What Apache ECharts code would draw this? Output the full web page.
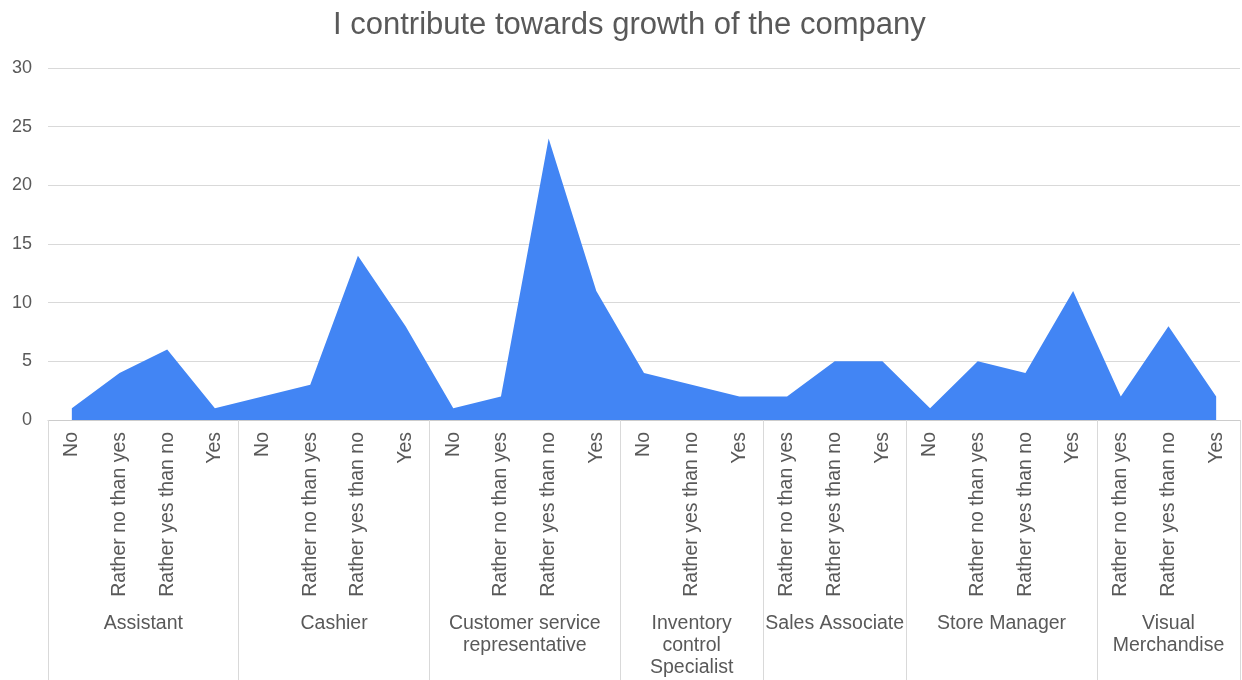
<!DOCTYPE html>
<html>
<head>
<meta charset="utf-8">
<script src="https://cdn.jsdelivr.net/npm/echarts@6/dist/echarts.min.js"></script>
<style>html,body{margin:0;padding:0;background:#fff}#c{width:1242px;height:680px}</style>
</head>
<body>
<div id="c"></div>
<script>
var titleText = 'I contribute towards growth of the company';
var groupNames = ['Assistant', 'Cashier', 'Customer service\nrepresentative', 'Inventory\ncontrol\nSpecialist', 'Sales Associate', 'Store Manager', 'Visual\nMerchandise'];
var groupAnswers = [
  ['No', 'Rather no than yes', 'Rather yes than no', 'Yes'],
  ['No', 'Rather no than yes', 'Rather yes than no', 'Yes'],
  ['No', 'Rather no than yes', 'Rather yes than no', 'Yes'],
  ['No', 'Rather yes than no', 'Yes'],
  ['Rather no than yes', 'Rather yes than no', 'Yes'],
  ['No', 'Rather no than yes', 'Rather yes than no', 'Yes'],
  ['Rather no than yes', 'Rather yes than no', 'Yes']
];
var groupValues = [
  [1, 4, 6, 1],
  [2, 3, 14, 8],
  [1, 2, 24, 11],
  [4, 3, 2],
  [2, 5, 5],
  [1, 5, 4, 11],
  [2, 8, 2]
];
var yTicks = [0, 5, 10, 15, 20, 25, 30];

var cats = [], vals = [];
var boundaries = [0], centers = {};
var count = 0;
groupAnswers.forEach(function (ans, g) {
  var start = count;
  ans.forEach(function (a, i) { cats.push(a); vals.push(groupValues[g][i]); });
  count += ans.length;
  boundaries.push(count * 2);
  centers[start + count] = groupNames[g];
});
var halfSlots = [];
for (var i = 0; i <= count * 2; i++) halfSlots.push(centers[i] || '');

var textColor = '#595959';
var font = '"Liberation Sans", Arial, sans-serif';
var chart = echarts.init(document.getElementById('c'));
chart.setOption({
  animation: false,
  textStyle: { fontFamily: font },
  title: {
    text: titleText, left: 333, top: 10, padding: 0,
    textStyle: { fontSize: 31, fontWeight: 'normal', color: textColor, fontFamily: font }
  },
  grid: { left: 48, right: 2, top: 68, bottom: 260 },
  xAxis: [{
    type: 'category', data: cats, boundaryGap: true,
    axisLine: { lineStyle: { color: '#cccccc' } },
    axisTick: { show: false },
    axisLabel: { rotate: 90, interval: 0, margin: 12, fontSize: 19.5, color: textColor, fontFamily: font }
  }, {
    type: 'category', data: halfSlots, boundaryGap: false, position: 'bottom',
    axisLine: { show: false },
    axisTick: {
      show: true, length: 260, inside: false,
      interval: function (idx) { return boundaries.indexOf(idx) >= 0; },
      lineStyle: { color: '#d9d9d9' }
    },
    axisLabel: {
      interval: function (idx, v) { return v !== ''; },
      margin: 193, fontSize: 19.5, color: textColor, lineHeight: 22, align: 'center', verticalAlign: 'top', fontFamily: font
    }
  }],
  yAxis: {
    type: 'value', min: yTicks[0], max: yTicks[yTicks.length - 1], interval: 5,
    axisLine: { show: false }, axisTick: { show: false },
    splitLine: { lineStyle: { color: '#d9d9d9' } },
    axisLabel: { fontSize: 18, color: textColor, margin: 16, fontFamily: font }
  },
  series: [{
    type: 'line', data: vals, xAxisIndex: 0,
    showSymbol: false, symbol: 'none',
    lineStyle: { width: 0 },
    areaStyle: { color: '#4285F4', opacity: 1 }
  }]
});
</script>
</body>
</html>
